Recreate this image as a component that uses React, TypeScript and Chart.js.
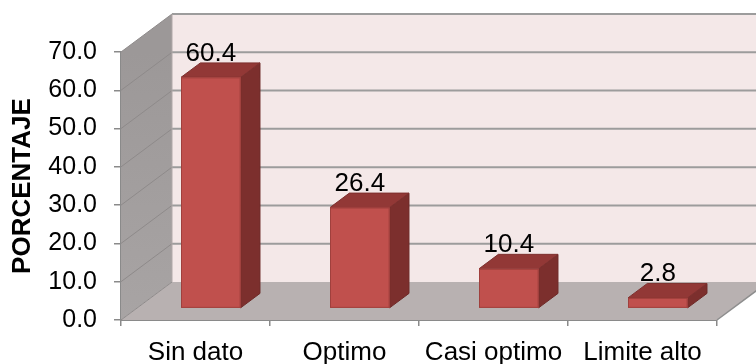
import React, { useEffect, useRef } from "react";
import { Chart, registerables } from "chart.js";

Chart.register(...registerables);

const categories = ["Sin dato", "Optimo", "Casi optimo", "Limite alto"];
const porcentajes = [60.4, 26.4, 10.4, 2.8];
const yMin = 0;
const yMax = 70;
const yStep = 10;
const yTitle = "PORCENTAJE";

const FONT = "'Liberation Sans', Arial, sans-serif";

// Perspective offset of the back wall relative to the front plane
const DEPTH_X = 51;
const DEPTH_Y = -38;
// Bars occupy a slice of the floor depth
const BAR_FRONT = 0.3;
const BAR_DEPTH = 0.38;

const box3d = {
  id: "box3d",
  beforeDatasetsDraw(chart: any) {
    const { ctx, chartArea, scales } = chart;
    const yS = scales.y;
    const L = chartArea.left;
    const R = chartArea.right;
    const y0 = yS.getPixelForValue(yMin);
    const yT = yS.getPixelForValue(yMax);
    ctx.save();

    // left side wall
    ctx.beginPath();
    ctx.moveTo(L, yT);
    ctx.lineTo(L + DEPTH_X, yT + DEPTH_Y);
    ctx.lineTo(L + DEPTH_X, y0 + DEPTH_Y);
    ctx.lineTo(L, y0);
    ctx.closePath();
    const sideGrad = ctx.createLinearGradient(0, yT, 0, y0);
    sideGrad.addColorStop(0, "#9c9898");
    sideGrad.addColorStop(1, "#a8a4a4");
    ctx.fillStyle = sideGrad;
    ctx.fill();

    // back wall
    ctx.fillStyle = "#f4e8e8";
    ctx.fillRect(L + DEPTH_X, yT + DEPTH_Y, R - L, y0 - yT);

    // floor
    ctx.beginPath();
    ctx.moveTo(L, y0);
    ctx.lineTo(L + DEPTH_X, y0 + DEPTH_Y);
    ctx.lineTo(R + DEPTH_X, y0 + DEPTH_Y);
    ctx.lineTo(R, y0);
    ctx.closePath();
    ctx.fillStyle = "#b8b1b1";
    ctx.fill();

    // gridlines across the side and back walls
    for (let v = yMin; v <= yMax; v += yStep) {
      const yy = yS.getPixelForValue(v);
      ctx.beginPath();
      ctx.moveTo(L, yy);
      ctx.lineTo(L + DEPTH_X, yy + DEPTH_Y);
      ctx.strokeStyle = "#8e8a8a";
      ctx.lineWidth = 1;
      ctx.stroke();
      if (v > yMin) {
        ctx.beginPath();
        ctx.moveTo(L + DEPTH_X, yy + DEPTH_Y);
        ctx.lineTo(R + DEPTH_X, yy + DEPTH_Y);
        ctx.strokeStyle = "#9c9c9c";
        ctx.lineWidth = 2;
        ctx.stroke();
      }
    }

    // back-left corner of the walls
    ctx.beginPath();
    ctx.moveTo(L + DEPTH_X, yT + DEPTH_Y);
    ctx.lineTo(L + DEPTH_X, y0 + DEPTH_Y);
    ctx.strokeStyle = "#b0a8a8";
    ctx.lineWidth = 1;
    ctx.stroke();

    // right edge of the floor
    ctx.beginPath();
    ctx.moveTo(R, y0);
    ctx.lineTo(R + DEPTH_X, y0 + DEPTH_Y);
    ctx.strokeStyle = "#8e8e8e";
    ctx.lineWidth = 1.5;
    ctx.stroke();

    ctx.restore();
  },
  afterDatasetsDraw(chart: any) {
    const { ctx } = chart;
    const meta = chart.getDatasetMeta(0);
    const values = chart.data.datasets[0].data as number[];
    ctx.save();
    meta.data.forEach((el: any, i: number) => {
      const { x, y, base, width } = el.getProps(["x", "y", "base", "width"], true);
      const ox = BAR_FRONT * DEPTH_X;
      const oy = BAR_FRONT * DEPTH_Y;
      const bx = BAR_DEPTH * DEPTH_X;
      const by = BAR_DEPTH * DEPTH_Y;
      const x1 = x - width / 2 + ox;
      const x2 = x + width / 2 + ox;
      const yt = y + oy;
      const yb = base + oy;

      // right face
      ctx.beginPath();
      ctx.moveTo(x2, yt);
      ctx.lineTo(x2 + bx, yt + by);
      ctx.lineTo(x2 + bx, yb + by);
      ctx.lineTo(x2, yb);
      ctx.closePath();
      ctx.fillStyle = "#7c2f2d";
      ctx.fill();
      ctx.strokeStyle = "#6e2a28";
      ctx.lineWidth = 1;
      ctx.stroke();

      // top face
      ctx.beginPath();
      ctx.moveTo(x1, yt);
      ctx.lineTo(x1 + bx, yt + by);
      ctx.lineTo(x2 + bx, yt + by);
      ctx.lineTo(x2, yt);
      ctx.closePath();
      ctx.fillStyle = "#923836";
      ctx.fill();
      ctx.strokeStyle = "#7e302e";
      ctx.stroke();

      // front face
      ctx.fillStyle = "#c0504d";
      ctx.fillRect(x1, yt, x2 - x1, yb - yt);
      ctx.strokeStyle = "#a0403d";
      ctx.strokeRect(x1 + 0.5, yt + 0.5, x2 - x1 - 1, yb - yt - 1);

      // value label
      ctx.fillStyle = "#000";
      ctx.font = `26px ${FONT}`;
      ctx.textAlign = "center";
      ctx.textBaseline = "alphabetic";
      ctx.fillText(values[i].toFixed(1), (x1 + x2) / 2, yt + by - 2);
    });
    ctx.restore();
  },
};

export default function App() {
  const canvasRef = useRef<HTMLCanvasElement | null>(null);

  useEffect(() => {
    document.body.style.margin = "0";
    const canvas = canvasRef.current;
    if (!canvas) return;
    const chart = new Chart(canvas, {
      type: "bar",
      data: {
        labels: categories,
        datasets: [
          {
            data: porcentajes,
            backgroundColor: "rgba(0,0,0,0)",
            borderWidth: 0,
            categoryPercentage: 1,
            barPercentage: 0.4,
          },
        ],
      },
      options: {
        responsive: false,
        animation: false,
        devicePixelRatio: 1,
        layout: { padding: { top: 52, right: 39, left: 0, bottom: 0 } },
        plugins: {
          legend: { display: false },
          tooltip: { enabled: false },
        },
        scales: {
          x: {
            afterFit: (s: any) => {
              s.height = 44;
            },
            grid: {
              offset: true,
              drawOnChartArea: false,
              drawTicks: true,
              tickLength: 6,
              color: "#8a8a8a",
              lineWidth: 1.5,
            },
            border: { display: true, color: "#8a8a8a", width: 2 },
            ticks: {
              color: "#000",
              font: { family: FONT, size: 26 },
              padding: 11,
              maxRotation: 0,
              autoSkip: false,
            },
          },
          y: {
            min: yMin,
            max: yMax,
            afterFit: (s: any) => {
              s.width = 121;
            },
            grid: {
              drawOnChartArea: false,
              drawTicks: true,
              tickLength: 7,
              color: "#8a8a8a",
              lineWidth: 1.5,
            },
            border: { display: true, color: "#8a8a8a", width: 1.5 },
            ticks: {
              stepSize: yStep,
              color: "#000",
              font: { family: FONT, size: 25 },
              padding: 17,
              callback: (v: any) => Number(v).toFixed(1),
            },
            title: {
              display: true,
              text: yTitle,
              color: "#000",
              font: { family: FONT, size: 26, weight: "bold" },
              padding: { top: 7, bottom: 0 },
            },
          },
        },
      },
      plugins: [box3d],
    });
    return () => chart.destroy();
  }, []);

  return (
    <div style={{ width: 756, height: 364 }}>
      <canvas ref={canvasRef} width={756} height={364} />
    </div>
  );
}
